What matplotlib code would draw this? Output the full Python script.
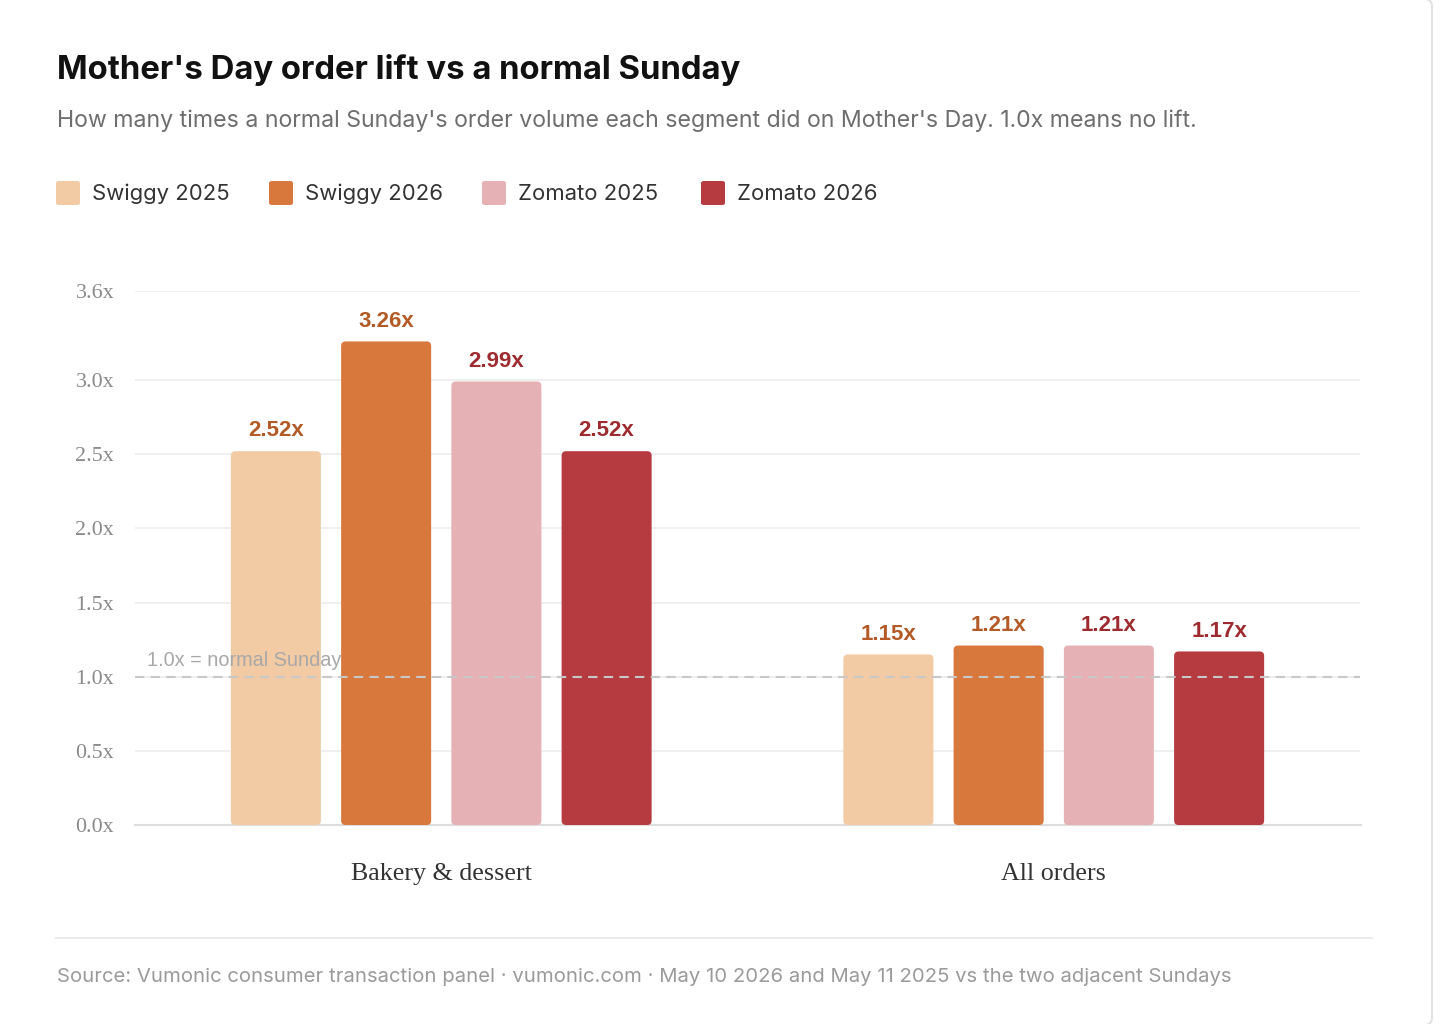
import matplotlib
matplotlib.use("Agg")
import matplotlib.pyplot as plt
from matplotlib.patches import FancyBboxPatch
import numpy as np

# ---- data ----
categories = ["Bakery & dessert", "All orders"]
series = ["Swiggy 2025", "Swiggy 2026", "Zomato 2025", "Zomato 2026"]
values = {
    "Swiggy 2025": [2.52, 1.15],
    "Swiggy 2026": [3.26, 1.21],
    "Zomato 2025": [2.99, 1.21],
    "Zomato 2026": [2.52, 1.17],
}
ytick_vals = [0.0, 0.5, 1.0, 1.5, 2.0, 2.5, 3.0, 3.6]
ytick_labels = ["0.0x", "0.5x", "1.0x", "1.5x", "2.0x", "2.5x", "3.0x", "3.6x"]
baseline_value = 1.0

title = "Mother's Day order lift vs a normal Sunday"
subtitle = "How many times a normal Sunday's order volume each segment did on Mother's Day. 1.0x means no lift."
source = "Source: Vumonic consumer transaction panel \u00b7 vumonic.com \u00b7 May 10 2026 and May 11 2025 vs the two adjacent Sundays"

bar_colors = ["#F2CBA5", "#D8783D", "#E5B1B5", "#B53B40"]
label_colors = ["#B35A26", "#B35A26", "#9E2B30", "#9E2B30"]

W, H = 1452, 1024
fig = plt.figure(figsize=(W / 100, H / 100), dpi=100)
fig.patch.set_facecolor("white")

def fx(x):
    return x / W

def fy(y):
    return 1 - y / H

# card border
card = FancyBboxPatch((fx(-30), fy(1026)), fx(1432 + 30), (1026 + 2) / H,
                      boxstyle="round,pad=0,rounding_size=0.008",
                      transform=fig.transFigure, facecolor="white",
                      edgecolor="#E2E2E2", linewidth=1.5, zorder=-5)
fig.patches.append(card)

sans = ["Inter", "DejaVu Sans"]
fig.text(fx(57), fy(70), title, fontsize=23.7, fontweight="bold", color="#111111",
         family=sans, va="center", ha="left")
fig.text(fx(57), fy(121), subtitle, fontsize=16.65, color="#6E6E6E",
         family=sans, va="center", ha="left")

# legend
leg_x = [56, 269, 482, 701]
for i, s in enumerate(series):
    sq = FancyBboxPatch((fx(leg_x[i]), fy(205)), fx(24), 24 / H,
                        boxstyle="round,pad=0,rounding_size=0.002",
                        transform=fig.transFigure, facecolor=bar_colors[i],
                        edgecolor="none", zorder=2)
    fig.patches.append(sq)
    fig.text(fx(leg_x[i] + 36), fy(194), s, fontsize=15.9, color="#333333",
             family=sans, va="center", ha="left")

# axes
ax = fig.add_axes([fx(135), fy(825), fx(1225), (825 - 291) / H])
ax.set_zorder(3)
ax.patch.set_alpha(0)
ax.set_xlim(-0.5, 1.5)
ax.set_ylim(0, 3.6)
for sp in ax.spines.values():
    sp.set_visible(False)
ax.set_yticks(ytick_vals)
ax.set_yticklabels(ytick_labels, family=["Liberation Serif"], fontsize=15.8, color="#8A8A8A")
ax.tick_params(axis="y", length=0, pad=15)
ax.set_xticks([])
for v in ytick_vals:
    if v == 0:
        continue
    ax.axhline(v, color="#EEEEEE", linewidth=1.3, zorder=0)
ax.axhline(0, color="#DDDDDD", linewidth=1.5, zorder=1, xmax=1.001, clip_on=False)

x = np.arange(len(categories))
step = 0.18
bw = 0.147
px_x = 1225 / 2.0  # px per x unit
px_y = 534 / 3.6   # px per y unit
r_px = 4.5
for i, s in enumerate(series):
    offs = (i - 1.5) * step
    bars = ax.bar(x + offs, values[s], width=bw, color=bar_colors[i], zorder=2)
    for b, val in zip(bars, values[s]):
        b.set_visible(False)
        p = FancyBboxPatch((b.get_x(), b.get_y()), b.get_width(), b.get_height(),
                           boxstyle=f"round,pad=0,rounding_size={r_px / px_x}",
                           mutation_aspect=px_x / px_y,
                           facecolor=bar_colors[i], edgecolor="none", zorder=2)
        ax.add_patch(p)
        ax.annotate(f"{val:.2f}x", (b.get_x() + b.get_width() / 2, val),
                    xytext=(0, 7), textcoords="offset points", ha="center", va="bottom",
                    fontsize=16, fontweight="bold", color=label_colors[i],
                    family=["Liberation Sans"], zorder=5)

# reference line
ax.axhline(baseline_value, color="#C8C8C8", linewidth=1.5, linestyle=(0, (4.5, 3)), zorder=3)
ax.annotate("1.0x = normal Sunday", (-0.5, baseline_value), xytext=(8.5, 11.5),
            textcoords="offset points", ha="left", va="center", fontsize=14.3,
            color="#A8A8A8", family=["Liberation Sans"], zorder=4)

# category labels
for xi, c in zip(x, categories):
    ax.annotate(c, (xi, 0), xytext=(0, -35.3), textcoords="offset points",
                ha="center", va="center", fontsize=18.7, color="#333333",
                family=["Liberation Serif"], annotation_clip=False)

# footer
fig.add_artist(plt.Line2D([fx(56), fx(1372)], [fy(938), fy(938)], color="#EBEBEB",
                          linewidth=1.5, transform=fig.transFigure))
fig.text(fx(57), fy(977), source, fontsize=14.6, color="#9A9A9A", family=sans,
         va="center", ha="left")

fig.savefig("out.png", dpi=100, facecolor="white")
